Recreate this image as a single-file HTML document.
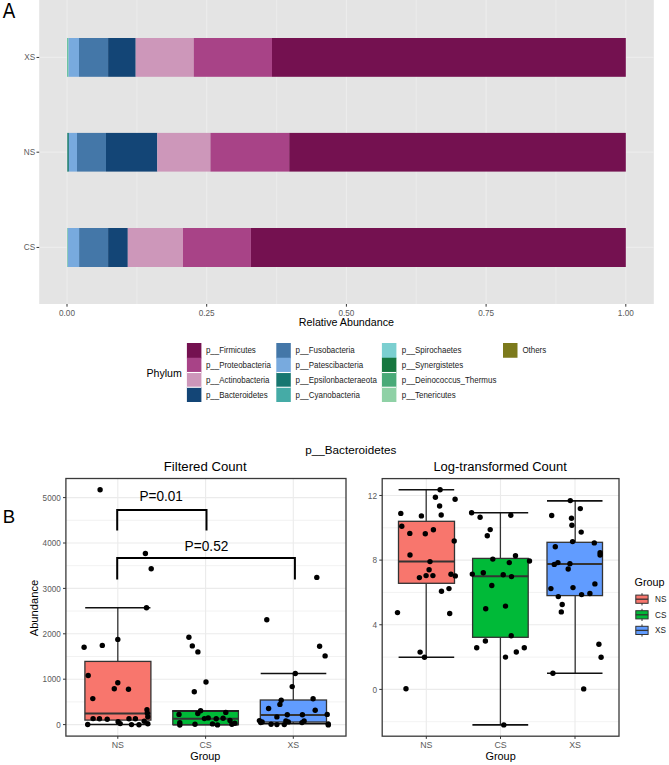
<!DOCTYPE html>
<html><head><meta charset="utf-8"><title>Phylum plot</title>
<style>
html,body{margin:0;padding:0;background:#fff;}
body{width:669px;height:765px;overflow:hidden;}
svg{display:block;font-family:"Liberation Sans", sans-serif;}
</style></head>
<body>
<svg width="669" height="765" viewBox="0 0 669 765">
<rect x="39.20" y="0.00" width="614.60" height="304.00" fill="#e4e4e4" />
<line x1="136.85" y1="0.00" x2="136.85" y2="304.00" stroke="#eaeaea" stroke-width="1.2" />
<line x1="276.55" y1="0.00" x2="276.55" y2="304.00" stroke="#eaeaea" stroke-width="1.2" />
<line x1="416.25" y1="0.00" x2="416.25" y2="304.00" stroke="#eaeaea" stroke-width="1.2" />
<line x1="555.95" y1="0.00" x2="555.95" y2="304.00" stroke="#eaeaea" stroke-width="1.2" />
<line x1="67.00" y1="0.00" x2="67.00" y2="304.00" stroke="#ececec" stroke-width="1.2" />
<line x1="206.70" y1="0.00" x2="206.70" y2="304.00" stroke="#ececec" stroke-width="1.2" />
<line x1="346.40" y1="0.00" x2="346.40" y2="304.00" stroke="#ececec" stroke-width="1.2" />
<line x1="486.10" y1="0.00" x2="486.10" y2="304.00" stroke="#ececec" stroke-width="1.2" />
<line x1="625.80" y1="0.00" x2="625.80" y2="304.00" stroke="#ececec" stroke-width="1.2" />
<line x1="39.20" y1="57.45" x2="653.80" y2="57.45" stroke="#ececec" stroke-width="1.2" />
<line x1="39.20" y1="152.20" x2="653.80" y2="152.20" stroke="#ececec" stroke-width="1.2" />
<line x1="39.20" y1="247.45" x2="653.80" y2="247.45" stroke="#ececec" stroke-width="1.2" />
<rect x="67.00" y="38.00" width="1.60" height="38.80" fill="#6cc4a2" />
<rect x="68.60" y="38.00" width="10.40" height="38.80" fill="#78aade" />
<rect x="79.00" y="38.00" width="29.10" height="38.80" fill="#4477a8" />
<rect x="108.10" y="38.00" width="27.60" height="38.80" fill="#134576" />
<rect x="135.70" y="38.00" width="58.00" height="38.80" fill="#cd97ba" />
<rect x="193.70" y="38.00" width="78.30" height="38.80" fill="#a84387" />
<rect x="272.00" y="38.00" width="353.80" height="38.80" fill="#741150" />
<rect x="67.00" y="132.90" width="0.60" height="38.70" fill="#3a9c70" />
<rect x="67.60" y="132.90" width="1.30" height="38.70" fill="#177770" />
<rect x="68.90" y="132.90" width="8.10" height="38.70" fill="#78aade" />
<rect x="77.00" y="132.90" width="29.00" height="38.70" fill="#4477a8" />
<rect x="106.00" y="132.90" width="51.30" height="38.70" fill="#134576" />
<rect x="157.30" y="132.90" width="53.10" height="38.70" fill="#cd97ba" />
<rect x="210.40" y="132.90" width="78.80" height="38.70" fill="#a84387" />
<rect x="289.20" y="132.90" width="336.60" height="38.70" fill="#741150" />
<rect x="67.00" y="228.00" width="0.80" height="39.00" fill="#7fcca0" />
<rect x="67.80" y="228.00" width="11.30" height="39.00" fill="#78aade" />
<rect x="79.10" y="228.00" width="29.00" height="39.00" fill="#4477a8" />
<rect x="108.10" y="228.00" width="19.70" height="39.00" fill="#134576" />
<rect x="127.80" y="228.00" width="55.20" height="39.00" fill="#cd97ba" />
<rect x="183.00" y="228.00" width="67.90" height="39.00" fill="#a84387" />
<rect x="250.90" y="228.00" width="374.90" height="39.00" fill="#741150" />
<line x1="36.50" y1="57.45" x2="39.20" y2="57.45" stroke="#333333" stroke-width="1.0" />
<text x="35.2" y="60.45" font-size="8.2" fill="#5a5a5a" text-anchor="end" >XS</text>
<line x1="36.50" y1="152.20" x2="39.20" y2="152.20" stroke="#333333" stroke-width="1.0" />
<text x="35.2" y="155.2" font-size="8.2" fill="#5a5a5a" text-anchor="end" >NS</text>
<line x1="36.50" y1="247.45" x2="39.20" y2="247.45" stroke="#333333" stroke-width="1.0" />
<text x="35.2" y="250.45" font-size="8.2" fill="#5a5a5a" text-anchor="end" >CS</text>
<line x1="67.00" y1="304.00" x2="67.00" y2="306.70" stroke="#333333" stroke-width="1.0" />
<text x="67.0" y="315.9" font-size="8.2" fill="#5a5a5a" text-anchor="middle" >0.00</text>
<line x1="206.70" y1="304.00" x2="206.70" y2="306.70" stroke="#333333" stroke-width="1.0" />
<text x="206.7" y="315.9" font-size="8.2" fill="#5a5a5a" text-anchor="middle" >0.25</text>
<line x1="346.40" y1="304.00" x2="346.40" y2="306.70" stroke="#333333" stroke-width="1.0" />
<text x="346.4" y="315.9" font-size="8.2" fill="#5a5a5a" text-anchor="middle" >0.50</text>
<line x1="486.10" y1="304.00" x2="486.10" y2="306.70" stroke="#333333" stroke-width="1.0" />
<text x="486.09999999999997" y="315.9" font-size="8.2" fill="#5a5a5a" text-anchor="middle" >0.75</text>
<line x1="625.80" y1="304.00" x2="625.80" y2="306.70" stroke="#333333" stroke-width="1.0" />
<text x="625.8" y="315.9" font-size="8.2" fill="#5a5a5a" text-anchor="middle" >1.00</text>
<text x="346.4" y="326.3" font-size="10.7" fill="#000" text-anchor="middle" >Relative Abundance</text>
<text x="2.8" y="17.8" font-size="21.2" fill="#000" text-anchor="start" textLength="12.5" lengthAdjust="spacingAndGlyphs" >A</text>
<text x="146.5" y="376.5" font-size="10.6" fill="#000" text-anchor="start" >Phylum</text>
<rect x="186.90" y="343.00" width="14.50" height="15.35" fill="#741150" />
<text x="205.9" y="353.375" font-size="8.6" fill="#1a1a1a" text-anchor="start" textLength="49.92" lengthAdjust="spacingAndGlyphs" >p__Firmicutes</text>
<rect x="186.90" y="357.75" width="14.50" height="15.35" fill="#a84387" />
<text x="205.9" y="368.125" font-size="8.6" fill="#1a1a1a" text-anchor="start" textLength="64.97" lengthAdjust="spacingAndGlyphs" >p__Proteobacteria</text>
<rect x="186.90" y="372.50" width="14.50" height="15.35" fill="#cd97ba" />
<text x="205.9" y="382.875" font-size="8.6" fill="#1a1a1a" text-anchor="start" textLength="63.64" lengthAdjust="spacingAndGlyphs" >p__Actinobacteria</text>
<rect x="186.90" y="387.25" width="14.50" height="14.75" fill="#134576" />
<text x="205.9" y="397.625" font-size="8.6" fill="#1a1a1a" text-anchor="start" textLength="61.88" lengthAdjust="spacingAndGlyphs" >p__Bacteroidetes</text>
<rect x="276.30" y="343.00" width="14.50" height="15.35" fill="#4477a8" />
<text x="295.5" y="353.375" font-size="8.6" fill="#1a1a1a" text-anchor="start" textLength="59.22" lengthAdjust="spacingAndGlyphs" >p__Fusobacteria</text>
<rect x="276.30" y="357.75" width="14.50" height="15.35" fill="#78aade" />
<text x="295.5" y="368.125" font-size="8.6" fill="#1a1a1a" text-anchor="start" textLength="67.62" lengthAdjust="spacingAndGlyphs" >p__Patescibacteria</text>
<rect x="276.30" y="372.50" width="14.50" height="15.35" fill="#177770" />
<text x="295.5" y="382.875" font-size="8.6" fill="#1a1a1a" text-anchor="start" textLength="81.33" lengthAdjust="spacingAndGlyphs" >p__Epsilonbacteraeota</text>
<rect x="276.30" y="387.25" width="14.50" height="14.75" fill="#45aba6" />
<text x="295.5" y="397.625" font-size="8.6" fill="#1a1a1a" text-anchor="start" textLength="64.53" lengthAdjust="spacingAndGlyphs" >p__Cyanobacteria</text>
<rect x="381.90" y="343.00" width="14.50" height="15.35" fill="#7bcfd0" />
<text x="401.8" y="353.375" font-size="8.6" fill="#1a1a1a" text-anchor="start" textLength="59.67" lengthAdjust="spacingAndGlyphs" >p__Spirochaetes</text>
<rect x="381.90" y="357.75" width="14.50" height="15.35" fill="#16773f" />
<text x="401.8" y="368.125" font-size="8.6" fill="#1a1a1a" text-anchor="start" textLength="61.43" lengthAdjust="spacingAndGlyphs" >p__Synergistetes</text>
<rect x="381.90" y="372.50" width="14.50" height="15.35" fill="#49aa78" />
<text x="401.8" y="382.875" font-size="8.6" fill="#1a1a1a" text-anchor="start" textLength="94.57" lengthAdjust="spacingAndGlyphs" >p__Deinococcus_Thermus</text>
<rect x="381.90" y="387.25" width="14.50" height="14.75" fill="#8fd1a6" />
<text x="401.8" y="397.625" font-size="8.6" fill="#1a1a1a" text-anchor="start" textLength="53.92" lengthAdjust="spacingAndGlyphs" >p__Tenericutes</text>
<rect x="503.00" y="343.00" width="14.50" height="14.75" fill="#7c7a1c" />
<text x="522.4" y="353.375" font-size="8.6" fill="#1a1a1a" text-anchor="start" textLength="23.86" lengthAdjust="spacingAndGlyphs" >Others</text>
<line x1="186.90" y1="372.50" x2="201.40" y2="372.50" stroke="#ffffff" stroke-width="1.1" />
<line x1="186.90" y1="387.25" x2="201.40" y2="387.25" stroke="#ffffff" stroke-width="1.1" />
<line x1="276.30" y1="372.50" x2="290.80" y2="372.50" stroke="#ffffff" stroke-width="1.1" />
<line x1="276.30" y1="387.25" x2="290.80" y2="387.25" stroke="#ffffff" stroke-width="1.1" />
<line x1="381.90" y1="372.50" x2="396.40" y2="372.50" stroke="#ffffff" stroke-width="1.1" />
<line x1="381.90" y1="387.25" x2="396.40" y2="387.25" stroke="#ffffff" stroke-width="1.1" />
<text x="2.8" y="522.9" font-size="18.6" fill="#000" text-anchor="start" >B</text>
<text x="350.8" y="453.8" font-size="11.5" fill="#000" text-anchor="middle" textLength="91.0" lengthAdjust="spacingAndGlyphs" >p__Bacteroidetes</text>
<text x="205.2" y="470.6" font-size="12.5" fill="#000" text-anchor="middle" textLength="82.8" lengthAdjust="spacingAndGlyphs" >Filtered Count</text>
<text x="500.15" y="470.9" font-size="12.5" fill="#000" text-anchor="middle" textLength="133.5" lengthAdjust="spacingAndGlyphs" >Log-transformed Count</text>
<rect x="65.90" y="478.50" width="280.10" height="257.60" fill="#ffffff" />
<line x1="65.90" y1="701.90" x2="346.00" y2="701.90" stroke="#f0f0f0" stroke-width="0.9" />
<line x1="65.90" y1="656.50" x2="346.00" y2="656.50" stroke="#f0f0f0" stroke-width="0.9" />
<line x1="65.90" y1="611.10" x2="346.00" y2="611.10" stroke="#f0f0f0" stroke-width="0.9" />
<line x1="65.90" y1="565.70" x2="346.00" y2="565.70" stroke="#f0f0f0" stroke-width="0.9" />
<line x1="65.90" y1="520.30" x2="346.00" y2="520.30" stroke="#f0f0f0" stroke-width="0.9" />
<line x1="65.90" y1="724.60" x2="346.00" y2="724.60" stroke="#ebebeb" stroke-width="1.1" />
<line x1="65.90" y1="679.20" x2="346.00" y2="679.20" stroke="#ebebeb" stroke-width="1.1" />
<line x1="65.90" y1="633.80" x2="346.00" y2="633.80" stroke="#ebebeb" stroke-width="1.1" />
<line x1="65.90" y1="588.40" x2="346.00" y2="588.40" stroke="#ebebeb" stroke-width="1.1" />
<line x1="65.90" y1="543.00" x2="346.00" y2="543.00" stroke="#ebebeb" stroke-width="1.1" />
<line x1="65.90" y1="497.60" x2="346.00" y2="497.60" stroke="#ebebeb" stroke-width="1.1" />
<line x1="117.80" y1="478.50" x2="117.80" y2="736.10" stroke="#ebebeb" stroke-width="1.1" />
<line x1="205.60" y1="478.50" x2="205.60" y2="736.10" stroke="#ebebeb" stroke-width="1.1" />
<line x1="293.30" y1="478.50" x2="293.30" y2="736.10" stroke="#ebebeb" stroke-width="1.1" />
<rect x="382.20" y="478.60" width="236.80" height="257.60" fill="#ffffff" />
<line x1="382.20" y1="721.72" x2="619.00" y2="721.72" stroke="#f0f0f0" stroke-width="0.9" />
<line x1="382.20" y1="657.08" x2="619.00" y2="657.08" stroke="#f0f0f0" stroke-width="0.9" />
<line x1="382.20" y1="592.44" x2="619.00" y2="592.44" stroke="#f0f0f0" stroke-width="0.9" />
<line x1="382.20" y1="527.80" x2="619.00" y2="527.80" stroke="#f0f0f0" stroke-width="0.9" />
<line x1="382.20" y1="689.40" x2="619.00" y2="689.40" stroke="#ebebeb" stroke-width="1.1" />
<line x1="382.20" y1="624.76" x2="619.00" y2="624.76" stroke="#ebebeb" stroke-width="1.1" />
<line x1="382.20" y1="560.12" x2="619.00" y2="560.12" stroke="#ebebeb" stroke-width="1.1" />
<line x1="382.20" y1="495.48" x2="619.00" y2="495.48" stroke="#ebebeb" stroke-width="1.1" />
<line x1="426.30" y1="478.60" x2="426.30" y2="736.20" stroke="#ebebeb" stroke-width="1.1" />
<line x1="500.50" y1="478.60" x2="500.50" y2="736.20" stroke="#ebebeb" stroke-width="1.1" />
<line x1="575.00" y1="478.60" x2="575.00" y2="736.20" stroke="#ebebeb" stroke-width="1.1" />
<line x1="117.80" y1="607.80" x2="117.80" y2="661.40" stroke="#333333" stroke-width="1.3" />
<line x1="85.20" y1="607.80" x2="150.40" y2="607.80" stroke="#111" stroke-width="1.6" />
<line x1="117.80" y1="720.10" x2="117.80" y2="724.50" stroke="#333333" stroke-width="1.3" />
<line x1="85.20" y1="724.50" x2="150.40" y2="724.50" stroke="#111" stroke-width="1.6" />
<rect x="84.90" y="661.40" width="66.00" height="58.70" fill="#f8766d" stroke="#333333" stroke-width="1.3"/>
<line x1="84.90" y1="713.60" x2="150.90" y2="713.60" stroke="#333333" stroke-width="2.0" />
<line x1="205.60" y1="724.60" x2="205.60" y2="724.60" stroke="#333333" stroke-width="1.3" />
<line x1="172.80" y1="724.60" x2="238.40" y2="724.60" stroke="#111" stroke-width="1.6" />
<rect x="172.80" y="710.90" width="65.60" height="13.70" fill="#00ba38" stroke="#333333" stroke-width="1.3"/>
<line x1="172.80" y1="718.80" x2="238.40" y2="718.80" stroke="#333333" stroke-width="2.0" />
<line x1="172.30" y1="711.10" x2="238.90" y2="711.10" stroke="#222" stroke-width="2.0" />
<line x1="293.30" y1="673.50" x2="293.30" y2="700.00" stroke="#333333" stroke-width="1.3" />
<line x1="260.70" y1="673.50" x2="326.30" y2="673.50" stroke="#111" stroke-width="1.6" />
<line x1="293.30" y1="722.00" x2="293.30" y2="723.60" stroke="#333333" stroke-width="1.3" />
<line x1="260.70" y1="723.60" x2="326.30" y2="723.60" stroke="#111" stroke-width="1.6" />
<rect x="260.30" y="700.00" width="66.20" height="22.00" fill="#619cff" stroke="#333333" stroke-width="1.3"/>
<line x1="260.30" y1="715.00" x2="326.50" y2="715.00" stroke="#333333" stroke-width="2.0" />
<line x1="426.20" y1="489.80" x2="426.20" y2="521.30" stroke="#333333" stroke-width="1.3" />
<line x1="398.60" y1="489.80" x2="454.20" y2="489.80" stroke="#111" stroke-width="1.6" />
<line x1="426.20" y1="583.30" x2="426.20" y2="657.20" stroke="#333333" stroke-width="1.3" />
<line x1="398.60" y1="657.20" x2="454.20" y2="657.20" stroke="#111" stroke-width="1.6" />
<rect x="398.50" y="521.30" width="56.00" height="62.00" fill="#f8766d" stroke="#333333" stroke-width="1.3"/>
<line x1="398.50" y1="561.60" x2="454.50" y2="561.60" stroke="#333333" stroke-width="2.0" />
<line x1="500.40" y1="512.70" x2="500.40" y2="558.40" stroke="#333333" stroke-width="1.3" />
<line x1="472.40" y1="512.70" x2="528.20" y2="512.70" stroke="#111" stroke-width="1.6" />
<line x1="500.40" y1="637.30" x2="500.40" y2="724.90" stroke="#333333" stroke-width="1.3" />
<line x1="472.40" y1="724.90" x2="528.20" y2="724.90" stroke="#111" stroke-width="1.6" />
<rect x="472.60" y="558.40" width="55.60" height="78.90" fill="#00ba38" stroke="#333333" stroke-width="1.3"/>
<line x1="472.60" y1="576.20" x2="528.20" y2="576.20" stroke="#333333" stroke-width="2.0" />
<line x1="575.20" y1="500.90" x2="575.20" y2="542.30" stroke="#333333" stroke-width="1.3" />
<line x1="547.00" y1="500.90" x2="602.50" y2="500.90" stroke="#111" stroke-width="1.6" />
<line x1="575.20" y1="595.60" x2="575.20" y2="673.30" stroke="#333333" stroke-width="1.3" />
<line x1="547.00" y1="673.30" x2="602.50" y2="673.30" stroke="#111" stroke-width="1.6" />
<rect x="547.00" y="542.30" width="55.50" height="53.30" fill="#619cff" stroke="#333333" stroke-width="1.3"/>
<line x1="547.00" y1="564.10" x2="602.50" y2="564.10" stroke="#333333" stroke-width="2.0" />
<circle cx="100.1" cy="489.7" r="2.7" fill="#000"/>
<circle cx="145.4" cy="553.5" r="2.7" fill="#000"/>
<circle cx="151.2" cy="568.8" r="2.7" fill="#000"/>
<circle cx="146.5" cy="607.8" r="2.7" fill="#000"/>
<circle cx="117.8" cy="639.4" r="2.7" fill="#000"/>
<circle cx="102.3" cy="645.4" r="2.7" fill="#000"/>
<circle cx="84.1" cy="647.3" r="2.7" fill="#000"/>
<circle cx="88.2" cy="675.5" r="2.7" fill="#000"/>
<circle cx="117.8" cy="682.7" r="2.7" fill="#000"/>
<circle cx="114.3" cy="688.7" r="2.7" fill="#000"/>
<circle cx="128.5" cy="689.2" r="2.7" fill="#000"/>
<circle cx="92.8" cy="698.6" r="2.7" fill="#000"/>
<circle cx="93.1" cy="718.6" r="2.7" fill="#000"/>
<circle cx="99.5" cy="718.8" r="2.7" fill="#000"/>
<circle cx="107.2" cy="719.2" r="2.7" fill="#000"/>
<circle cx="129.0" cy="718.7" r="2.7" fill="#000"/>
<circle cx="135.4" cy="718.7" r="2.7" fill="#000"/>
<circle cx="87.7" cy="724.5" r="2.7" fill="#000"/>
<circle cx="118.1" cy="721.7" r="2.7" fill="#000"/>
<circle cx="120.2" cy="723.6" r="2.7" fill="#000"/>
<circle cx="131.5" cy="724.6" r="2.7" fill="#000"/>
<circle cx="139.0" cy="724.8" r="2.7" fill="#000"/>
<circle cx="144.2" cy="721.2" r="2.7" fill="#000"/>
<circle cx="147.8" cy="723.8" r="2.7" fill="#000"/>
<circle cx="147.0" cy="709.7" r="2.7" fill="#000"/>
<circle cx="147.3" cy="712.9" r="2.7" fill="#000"/>
<circle cx="147.8" cy="716.8" r="2.7" fill="#000"/>
<circle cx="188.9" cy="637.2" r="2.7" fill="#000"/>
<circle cx="192.3" cy="645.9" r="2.7" fill="#000"/>
<circle cx="197.9" cy="651.9" r="2.7" fill="#000"/>
<circle cx="206.0" cy="682.0" r="2.7" fill="#000"/>
<circle cx="194.3" cy="691.8" r="2.7" fill="#000"/>
<circle cx="200.6" cy="710.7" r="2.7" fill="#000"/>
<circle cx="197.8" cy="713.5" r="2.7" fill="#000"/>
<circle cx="179.0" cy="714.4" r="2.7" fill="#000"/>
<circle cx="225.8" cy="712.4" r="2.7" fill="#000"/>
<circle cx="204.4" cy="718.6" r="2.7" fill="#000"/>
<circle cx="208.2" cy="717.9" r="2.7" fill="#000"/>
<circle cx="216.2" cy="718.8" r="2.7" fill="#000"/>
<circle cx="223.1" cy="718.2" r="2.7" fill="#000"/>
<circle cx="230.0" cy="720.5" r="2.7" fill="#000"/>
<circle cx="179.8" cy="722.8" r="2.7" fill="#000"/>
<circle cx="179.8" cy="725.0" r="2.7" fill="#000"/>
<circle cx="195.0" cy="724.3" r="2.7" fill="#000"/>
<circle cx="212.5" cy="723.9" r="2.7" fill="#000"/>
<circle cx="217.5" cy="724.9" r="2.7" fill="#000"/>
<circle cx="231.9" cy="724.2" r="2.7" fill="#000"/>
<circle cx="234.8" cy="723.3" r="2.7" fill="#000"/>
<circle cx="316.8" cy="577.4" r="2.7" fill="#000"/>
<circle cx="266.8" cy="619.7" r="2.7" fill="#000"/>
<circle cx="319.6" cy="646.2" r="2.7" fill="#000"/>
<circle cx="325.1" cy="655.9" r="2.7" fill="#000"/>
<circle cx="295.3" cy="673.5" r="2.7" fill="#000"/>
<circle cx="292.2" cy="686.6" r="2.7" fill="#000"/>
<circle cx="281.2" cy="700.3" r="2.7" fill="#000"/>
<circle cx="279.9" cy="704.4" r="2.7" fill="#000"/>
<circle cx="313.1" cy="698.8" r="2.7" fill="#000"/>
<circle cx="268.6" cy="708.5" r="2.7" fill="#000"/>
<circle cx="315.2" cy="710.2" r="2.7" fill="#000"/>
<circle cx="287.3" cy="714.8" r="2.7" fill="#000"/>
<circle cx="276.9" cy="716.9" r="2.7" fill="#000"/>
<circle cx="302.4" cy="714.8" r="2.7" fill="#000"/>
<circle cx="327.2" cy="714.4" r="2.7" fill="#000"/>
<circle cx="259.4" cy="720.6" r="2.7" fill="#000"/>
<circle cx="262.1" cy="721.9" r="2.7" fill="#000"/>
<circle cx="260.7" cy="722.6" r="2.7" fill="#000"/>
<circle cx="271.1" cy="724.3" r="2.7" fill="#000"/>
<circle cx="276.9" cy="724.6" r="2.7" fill="#000"/>
<circle cx="284.3" cy="724.6" r="2.7" fill="#000"/>
<circle cx="285.9" cy="720.9" r="2.7" fill="#000"/>
<circle cx="288.3" cy="721.9" r="2.7" fill="#000"/>
<circle cx="304.1" cy="720.9" r="2.7" fill="#000"/>
<circle cx="302.0" cy="722.6" r="2.7" fill="#000"/>
<circle cx="328.2" cy="723.9" r="2.7" fill="#000"/>
<circle cx="328.3" cy="724.9" r="2.7" fill="#000"/>
<circle cx="440.1" cy="489.8" r="2.7" fill="#000"/>
<circle cx="435.4" cy="497.2" r="2.7" fill="#000"/>
<circle cx="455.1" cy="499.3" r="2.7" fill="#000"/>
<circle cx="439.6" cy="506.0" r="2.7" fill="#000"/>
<circle cx="400.8" cy="513.4" r="2.7" fill="#000"/>
<circle cx="421.4" cy="515.9" r="2.7" fill="#000"/>
<circle cx="441.2" cy="515.0" r="2.7" fill="#000"/>
<circle cx="401.8" cy="526.2" r="2.7" fill="#000"/>
<circle cx="409.8" cy="533.4" r="2.7" fill="#000"/>
<circle cx="425.3" cy="533.8" r="2.7" fill="#000"/>
<circle cx="433.4" cy="529.8" r="2.7" fill="#000"/>
<circle cx="454.2" cy="541.0" r="2.7" fill="#000"/>
<circle cx="410.0" cy="555.0" r="2.7" fill="#000"/>
<circle cx="430.0" cy="561.6" r="2.7" fill="#000"/>
<circle cx="429.1" cy="569.8" r="2.7" fill="#000"/>
<circle cx="419.4" cy="577.6" r="2.7" fill="#000"/>
<circle cx="426.1" cy="575.6" r="2.7" fill="#000"/>
<circle cx="432.9" cy="575.6" r="2.7" fill="#000"/>
<circle cx="451.0" cy="574.2" r="2.7" fill="#000"/>
<circle cx="455.3" cy="575.9" r="2.7" fill="#000"/>
<circle cx="441.5" cy="591.3" r="2.7" fill="#000"/>
<circle cx="449.0" cy="588.6" r="2.7" fill="#000"/>
<circle cx="397.5" cy="612.6" r="2.7" fill="#000"/>
<circle cx="449.7" cy="613.5" r="2.7" fill="#000"/>
<circle cx="420.1" cy="652.1" r="2.7" fill="#000"/>
<circle cx="424.5" cy="657.2" r="2.7" fill="#000"/>
<circle cx="406.0" cy="688.7" r="2.7" fill="#000"/>
<circle cx="471.6" cy="512.7" r="2.7" fill="#000"/>
<circle cx="480.1" cy="517.2" r="2.7" fill="#000"/>
<circle cx="510.8" cy="515.2" r="2.7" fill="#000"/>
<circle cx="490.2" cy="529.6" r="2.7" fill="#000"/>
<circle cx="487.3" cy="535.8" r="2.7" fill="#000"/>
<circle cx="515.5" cy="555.7" r="2.7" fill="#000"/>
<circle cx="492.8" cy="559.1" r="2.7" fill="#000"/>
<circle cx="509.3" cy="562.6" r="2.7" fill="#000"/>
<circle cx="529.5" cy="561.0" r="2.7" fill="#000"/>
<circle cx="472.3" cy="574.1" r="2.7" fill="#000"/>
<circle cx="483.3" cy="572.7" r="2.7" fill="#000"/>
<circle cx="503.2" cy="574.7" r="2.7" fill="#000"/>
<circle cx="511.5" cy="576.6" r="2.7" fill="#000"/>
<circle cx="491.8" cy="585.5" r="2.7" fill="#000"/>
<circle cx="485.7" cy="608.7" r="2.7" fill="#000"/>
<circle cx="505.5" cy="606.1" r="2.7" fill="#000"/>
<circle cx="511.2" cy="635.7" r="2.7" fill="#000"/>
<circle cx="485.4" cy="641.0" r="2.7" fill="#000"/>
<circle cx="476.7" cy="647.8" r="2.7" fill="#000"/>
<circle cx="524.3" cy="647.8" r="2.7" fill="#000"/>
<circle cx="516.3" cy="652.0" r="2.7" fill="#000"/>
<circle cx="505.5" cy="657.1" r="2.7" fill="#000"/>
<circle cx="503.8" cy="724.9" r="2.7" fill="#000"/>
<circle cx="570.3" cy="500.6" r="2.7" fill="#000"/>
<circle cx="580.3" cy="508.6" r="2.7" fill="#000"/>
<circle cx="551.7" cy="515.5" r="2.7" fill="#000"/>
<circle cx="571.5" cy="518.3" r="2.7" fill="#000"/>
<circle cx="571.9" cy="525.2" r="2.7" fill="#000"/>
<circle cx="581.2" cy="532.1" r="2.7" fill="#000"/>
<circle cx="572.6" cy="541.6" r="2.7" fill="#000"/>
<circle cx="594.3" cy="542.9" r="2.7" fill="#000"/>
<circle cx="555.3" cy="546.8" r="2.7" fill="#000"/>
<circle cx="600.1" cy="552.7" r="2.7" fill="#000"/>
<circle cx="600.1" cy="555.0" r="2.7" fill="#000"/>
<circle cx="557.9" cy="562.6" r="2.7" fill="#000"/>
<circle cx="554.3" cy="564.4" r="2.7" fill="#000"/>
<circle cx="569.9" cy="563.7" r="2.7" fill="#000"/>
<circle cx="568.2" cy="569.0" r="2.7" fill="#000"/>
<circle cx="550.9" cy="588.6" r="2.7" fill="#000"/>
<circle cx="573.0" cy="587.6" r="2.7" fill="#000"/>
<circle cx="594.9" cy="583.9" r="2.7" fill="#000"/>
<circle cx="558.3" cy="596.6" r="2.7" fill="#000"/>
<circle cx="581.6" cy="594.6" r="2.7" fill="#000"/>
<circle cx="589.9" cy="593.5" r="2.7" fill="#000"/>
<circle cx="562.2" cy="604.5" r="2.7" fill="#000"/>
<circle cx="561.3" cy="611.9" r="2.7" fill="#000"/>
<circle cx="598.9" cy="644.3" r="2.7" fill="#000"/>
<circle cx="601.1" cy="657.3" r="2.7" fill="#000"/>
<circle cx="552.9" cy="673.3" r="2.7" fill="#000"/>
<circle cx="583.7" cy="688.9" r="2.7" fill="#000"/>
<rect x="65.90" y="478.50" width="280.10" height="257.60" fill="none" stroke="#3a3a3a" stroke-width="1.3"/>
<rect x="382.20" y="478.60" width="236.80" height="257.60" fill="none" stroke="#3a3a3a" stroke-width="1.3"/>
<polyline points="117.2,530.6 117.2,510.1 206.5,510.1 206.5,530.6" fill="none" stroke="#000" stroke-width="2.0"/>
<polyline points="117.2,579.6 117.2,558.0 294.9,558.0 294.9,579.6" fill="none" stroke="#000" stroke-width="2.0"/>
<text x="161.2" y="501.4" font-size="14.6" fill="#000" text-anchor="middle" textLength="43.4" lengthAdjust="spacingAndGlyphs" >P=0.01</text>
<text x="206.5" y="551.0" font-size="14.6" fill="#000" text-anchor="middle" textLength="43.8" lengthAdjust="spacingAndGlyphs" >P=0.52</text>
<line x1="63.00" y1="724.60" x2="65.90" y2="724.60" stroke="#333333" stroke-width="1.0" />
<text x="60.7" y="727.8000000000001" font-size="9.8" fill="#5a5a5a" text-anchor="end" textLength="4.52" lengthAdjust="spacingAndGlyphs" >0</text>
<line x1="63.00" y1="679.20" x2="65.90" y2="679.20" stroke="#333333" stroke-width="1.0" />
<text x="60.7" y="682.4000000000001" font-size="9.8" fill="#5a5a5a" text-anchor="end" textLength="18.09" lengthAdjust="spacingAndGlyphs" >1000</text>
<line x1="63.00" y1="633.80" x2="65.90" y2="633.80" stroke="#333333" stroke-width="1.0" />
<text x="60.7" y="637.0" font-size="9.8" fill="#5a5a5a" text-anchor="end" textLength="18.09" lengthAdjust="spacingAndGlyphs" >2000</text>
<line x1="63.00" y1="588.40" x2="65.90" y2="588.40" stroke="#333333" stroke-width="1.0" />
<text x="60.7" y="591.6" font-size="9.8" fill="#5a5a5a" text-anchor="end" textLength="18.09" lengthAdjust="spacingAndGlyphs" >3000</text>
<line x1="63.00" y1="543.00" x2="65.90" y2="543.00" stroke="#333333" stroke-width="1.0" />
<text x="60.7" y="546.2" font-size="9.8" fill="#5a5a5a" text-anchor="end" textLength="18.09" lengthAdjust="spacingAndGlyphs" >4000</text>
<line x1="63.00" y1="497.60" x2="65.90" y2="497.60" stroke="#333333" stroke-width="1.0" />
<text x="60.7" y="500.8" font-size="9.8" fill="#5a5a5a" text-anchor="end" textLength="18.09" lengthAdjust="spacingAndGlyphs" >5000</text>
<line x1="379.30" y1="689.40" x2="382.20" y2="689.40" stroke="#333333" stroke-width="1.0" />
<text x="377.0" y="692.6999999999999" font-size="9.2" fill="#5a5a5a" text-anchor="end" textLength="4.6" lengthAdjust="spacingAndGlyphs" >0</text>
<line x1="379.30" y1="624.76" x2="382.20" y2="624.76" stroke="#333333" stroke-width="1.0" />
<text x="377.0" y="628.06" font-size="9.2" fill="#5a5a5a" text-anchor="end" textLength="4.6" lengthAdjust="spacingAndGlyphs" >4</text>
<line x1="379.30" y1="560.12" x2="382.20" y2="560.12" stroke="#333333" stroke-width="1.0" />
<text x="377.0" y="563.42" font-size="9.2" fill="#5a5a5a" text-anchor="end" textLength="4.6" lengthAdjust="spacingAndGlyphs" >8</text>
<line x1="379.30" y1="495.48" x2="382.20" y2="495.48" stroke="#333333" stroke-width="1.0" />
<text x="377.0" y="498.78" font-size="9.2" fill="#5a5a5a" text-anchor="end" textLength="9.21" lengthAdjust="spacingAndGlyphs" >12</text>
<line x1="117.80" y1="736.10" x2="117.80" y2="738.80" stroke="#333333" stroke-width="1.0" />
<text x="117.8" y="747.7" font-size="8.8" fill="#5a5a5a" text-anchor="middle" >NS</text>
<line x1="205.60" y1="736.10" x2="205.60" y2="738.80" stroke="#333333" stroke-width="1.0" />
<text x="205.6" y="747.7" font-size="8.8" fill="#5a5a5a" text-anchor="middle" >CS</text>
<line x1="293.30" y1="736.10" x2="293.30" y2="738.80" stroke="#333333" stroke-width="1.0" />
<text x="293.3" y="747.7" font-size="8.8" fill="#5a5a5a" text-anchor="middle" >XS</text>
<line x1="426.30" y1="736.20" x2="426.30" y2="738.90" stroke="#333333" stroke-width="1.0" />
<text x="426.3" y="747.7" font-size="8.8" fill="#5a5a5a" text-anchor="middle" >NS</text>
<line x1="500.50" y1="736.20" x2="500.50" y2="738.90" stroke="#333333" stroke-width="1.0" />
<text x="500.5" y="747.7" font-size="8.8" fill="#5a5a5a" text-anchor="middle" >CS</text>
<line x1="575.00" y1="736.20" x2="575.00" y2="738.90" stroke="#333333" stroke-width="1.0" />
<text x="575.0" y="747.7" font-size="8.8" fill="#5a5a5a" text-anchor="middle" >XS</text>
<text x="205.3" y="760.1" font-size="10.9" fill="#000" text-anchor="middle" >Group</text>
<text x="500.6" y="760.1" font-size="10.9" fill="#000" text-anchor="middle" >Group</text>
<text x="0" y="0" font-size="11.2" fill="#000" text-anchor="middle" transform="translate(38.4,608) rotate(-90)">Abundance</text>
<text x="634.5" y="585.6" font-size="10.8" fill="#000" text-anchor="start" >Group</text>
<line x1="642.00" y1="593.20" x2="642.00" y2="605.40" stroke="#333333" stroke-width="1.0" />
<rect x="635.8" y="595.10" width="12.3" height="8.2" fill="#f8766d" stroke="#333333" stroke-width="1.0"/>
<line x1="635.80" y1="599.20" x2="648.10" y2="599.20" stroke="#333333" stroke-width="1.3" />
<text x="655.1" y="602.2" font-size="8.2" fill="#1a1a1a" text-anchor="start" >NS</text>
<line x1="642.00" y1="608.80" x2="642.00" y2="621.00" stroke="#333333" stroke-width="1.0" />
<rect x="635.8" y="610.70" width="12.3" height="8.2" fill="#00ba38" stroke="#333333" stroke-width="1.0"/>
<line x1="635.80" y1="614.80" x2="648.10" y2="614.80" stroke="#333333" stroke-width="1.3" />
<text x="655.1" y="617.8000000000001" font-size="8.2" fill="#1a1a1a" text-anchor="start" >CS</text>
<line x1="642.00" y1="624.40" x2="642.00" y2="636.60" stroke="#333333" stroke-width="1.0" />
<rect x="635.8" y="626.30" width="12.3" height="8.2" fill="#619cff" stroke="#333333" stroke-width="1.0"/>
<line x1="635.80" y1="630.40" x2="648.10" y2="630.40" stroke="#333333" stroke-width="1.3" />
<text x="655.1" y="633.4000000000001" font-size="8.2" fill="#1a1a1a" text-anchor="start" >XS</text>
</svg>
</body></html>
